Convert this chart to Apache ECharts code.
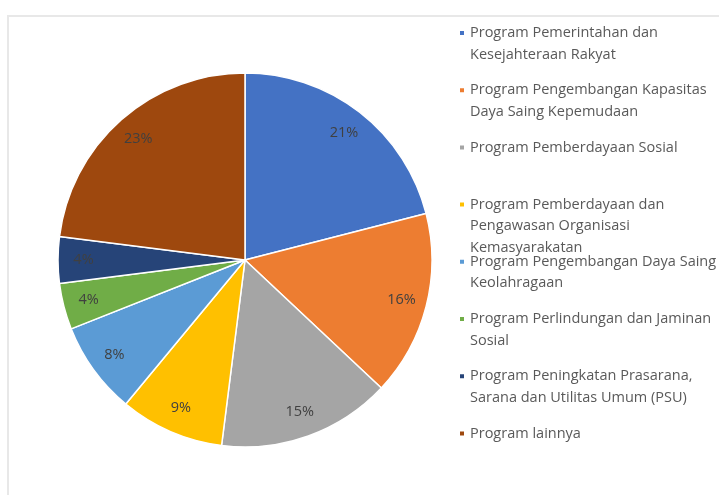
<!DOCTYPE html>
<html>
<head>
<meta charset="utf-8">
<script src="https://cdn.jsdelivr.net/npm/echarts@6/dist/echarts.min.js"></script>
<style>
  html, body { margin: 0; padding: 0; background: #fff; }
  #frame {
    position: absolute; left: 7px; top: 15px; width: 712px; height: 480px;
    border-top: 2px solid #e8e8e8; border-left: 2px solid #e8e8e8;
  }
  #chart { position: absolute; left: 0; top: 0; width: 719px; height: 495px; }
</style>
</head>
<body>
<div id="frame"></div>
<div id="chart"></div>
<script>
// slice names as shown in the legend (line breaks as in the picture)
const categories = [
  'Program Pemerintahan dan\nKesejahteraan Rakyat',
  'Program Pengembangan Kapasitas\nDaya Saing Kepemudaan',
  'Program Pemberdayaan Sosial',
  'Program Pemberdayaan dan\nPengawasan Organisasi\nKemasyarakatan',
  'Program Pengembangan Daya Saing\nKeolahragaan',
  'Program Perlindungan dan Jaminan\nSosial',
  'Program Peningkatan Prasarana,\nSarana dan Utilitas Umum (PSU)',
  'Program lainnya'
]
const shares = [21, 16, 15, 9, 8, 4, 4, 23]
const colors = ['#4472C4', '#ED7D31', '#A5A5A5', '#FFC000', '#5B9BD5', '#70AD47', '#264478', '#9E480E']

const FONT = '"Open Sans", "Noto Sans", sans-serif'
const center = [245, 260]
const R = 187

const pieData = categories.map((name, i) => ({ name, value: shares[i] }))

// one legend per entry so the rows sit in fixed slots like the original;
// blank lines are prepended so the marker lines up with the first text line
const LH = 21.5
const legends = categories.map((name, i) => {
  const n = name.split('\n').length
  const firstLine = 33 + i * 57.2
  return {
    data: [name],
    left: 458,
    top: firstLine - (2 * n - 1) * LH / 2,
    orient: 'vertical',
    icon: 'rect',
    itemWidth: 6, itemHeight: 6,
    itemGap: 0, padding: 0,
    selectedMode: false,
    formatter: nm => '\n'.repeat(n - 1) + nm,
    textStyle: {
      fontFamily: FONT, fontSize: 14.5, color: '#595959', lineHeight: LH,
    },
  }
})

const chart = echarts.init(document.getElementById('chart'), null, { renderer: 'canvas' })
chart.setOption({
  animation: false,
  color: colors,
  legend: legends,
  series: [
    {
      type: 'pie',
      center, radius: R,
      startAngle: 90, clockwise: true,
      data: pieData,
      label: { show: false },
      labelLine: { show: false },
      itemStyle: { borderColor: '#fff', borderWidth: 1.5 },
    },
    {
      // invisible ring just to place the percentage labels near the rim
      type: 'pie',
      center, radius: [130, R],
      startAngle: 90, clockwise: true,
      silent: true,
      data: pieData,
      itemStyle: { color: 'transparent', borderWidth: 0 },
      label: {
        show: true, position: 'inside',
        formatter: p => p.value + '%',
        fontFamily: FONT, fontSize: 14.5, color: '#404040',
      },
      labelLine: { show: false },
    },
  ],
})
</script>
</body>
</html>
